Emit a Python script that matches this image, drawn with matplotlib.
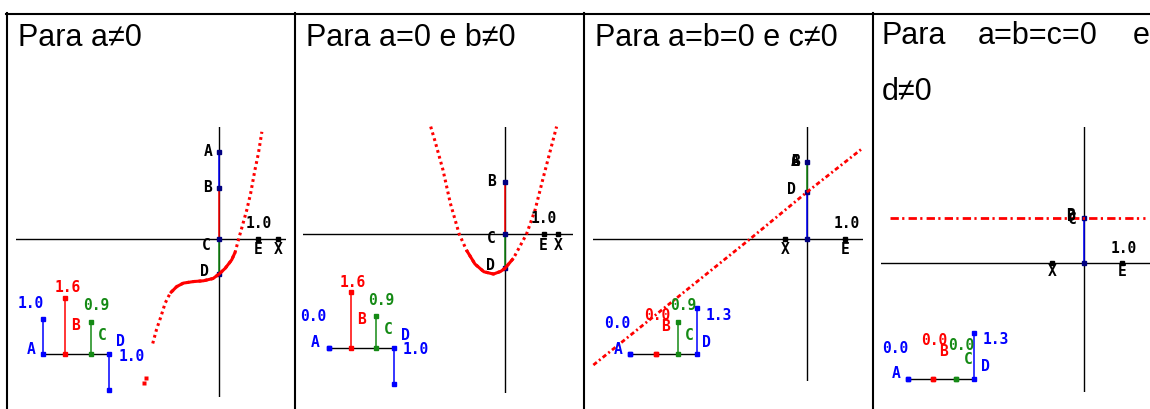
import matplotlib.pyplot as plt
import numpy as np

W, H = 1150, 409

# ---- data ----
titles = ['Para a≠0', 'Para a=0 e b≠0', 'Para a=b=0 e c≠0']
title4_words = ['Para', 'a=b=c=0', 'e']
title4_line2 = 'd≠0'

# slider values a, b, c, d for each panel
slider_vals = [
    [1.0, 1.6, 0.9, -1.0],
    [0.0, 1.6, 0.9, -1.0],
    [0.0, 0.0, 0.9, 1.3],
    [0.0, 0.0, 0.0, 1.3],
]

# curve of panel 1 (cubic), graph units
c1_x = [-1.72, -1.62, -1.51, -1.40, -1.27, -1.10, -0.93, -0.67, -0.41, -0.16, 0.0,
        0.15, 0.32, 0.41, 0.50, 0.59, 0.71, 0.81, 0.92, 1.01, 1.10]
c1_y = [-2.70, -2.33, -2.01, -1.66, -1.40, -1.23, -1.14, -1.10, -1.08, -1.02, -0.90,
        -0.76, -0.54, -0.34, 0.0, 0.32, 0.75, 1.18, 1.78, 2.21, 2.77]
stray1_x = [-1.94, -1.90]
stray1_y = [-3.73, -3.58]

# curve of panel 2 (parabola)
c2_x = [-1.93, -1.82, -1.61, -1.42, -1.19, -1.00, -0.78, -0.55, -0.30, -0.11, 0.0,
        0.22, 0.56, 0.78, 1.00, 1.17, 1.34]
c2_y = [2.79, 2.42, 1.66, 0.80, 0.0, -0.42, -0.78, -0.98, -1.04, -0.97, -0.89,
        -0.63, 0.0, 0.62, 1.49, 2.14, 2.79]

# line of panel 3 and constant of panel 4
c3_x = [-5.57, -1.48, 0.0, 1.46]
c3_y = [-3.29, 0.0, 1.22, 2.37]
c4_x = [-5.11, 1.60]
c4_y = [1.18, 1.18]

# points on the y axis and the coloured pieces between them
yaxis_pts = [[2.25, 1.32, 0.0, -0.91], [1.35, 0.0, -0.89], [2.0, 1.22, 0.0], [1.18, 0.0]]
yaxis_segs = [
    [(2.25, 1.32, 'blue'), (1.32, 0.0, 'red'), (0.0, -0.91, 'green')],
    [(1.35, 0.0, 'red'), (0.0, -0.89, 'green')],
    [(2.0, 1.22, 'green'), (1.22, 0.0, 'blue')],
    [(1.18, 0.0, 'blue')],
]
x_point_E = 1.0
x_point_X = [1.52, 1.38, -0.57, -0.86]

COL = {'blue': '#0000ff', 'red': '#ff0000', 'green': '#158a15', 'navy': '#000080'}
slider_cols = ['blue', 'red', 'green', 'blue']

# ---- layout (pixels) ----
graph_geo = [  # origin x, origin y, unit, box x0, x1, y0, y1
    (219.3, 239.0, 38.7, 16, 286, 127, 397),
    (505.0, 234.0, 38.5, 303, 573, 127, 393),
    (806.7, 239.0, 38.3, 593, 863, 127, 381),
    (1084.3, 263.3, 38.0, 881, 1150, 127, 392),
]
slider_base = [(43.3, 354.3), (329.3, 348.3), (630.0, 354.0), (908.3, 378.7)]
slider_slots = [[0, 22, 47.4, 66], [0, 21.4, 46.7, 65], [0, 25.7, 47.7, 66.7], [0, 24.4, 47.4, 66]]
slider_unit = 35.4

graph_labels = [
    [('A', 208.3, 152), ('B', 208, 188), ('C', 206.7, 245), ('D', 204.3, 272),
     ('E', 258, 249.3), ('X', 278, 249), ('1.0', 259.2, 224)],
    [('B', 491.7, 182), ('C', 491, 238.3), ('D', 490, 265.7),
     ('E', 543, 245), ('X', 558, 245), ('1.0', 544.2, 218.3)],
    [('A', 795, 162), ('B', 795, 162), ('C', 795, 162), ('D', 791.7, 190),
     ('X', 785, 250), ('E', 845, 250), ('1.0', 846.3, 224)],
    [('B', 1070.5, 216), ('C', 1072.5, 219), ('D', 1071.7, 216.7),
     ('X', 1051.7, 271.7), ('E', 1122.3, 271.7), ('1.0', 1124.2, 248.3)],
]
slider_labels = [
    [('1.0', 'blue', 30.5, 303), ('1.6', 'red', 67.5, 287), ('0.9', 'green', 96, 306),
     ('1.0', 'blue', 131.5, 356.7), ('A', 'blue', 30.7, 350), ('B', 'red', 75, 325),
     ('C', 'green', 102.7, 335), ('D', 'blue', 120, 341.7)],
    [('0.0', 'blue', 313, 316.7), ('1.6', 'red', 353, 282.7), ('0.9', 'green', 381, 300.7),
     ('1.0', 'blue', 415.5, 350), ('A', 'blue', 315, 342.7), ('B', 'red', 361, 320),
     ('C', 'green', 388.3, 329.3), ('D', 'blue', 405, 336)],
    [('0.0', 'blue', 617.3, 323.3), ('A', 'blue', 618.3, 350), ('0.0', 'red', 657.5, 315),
     ('B', 'red', 666, 326.7), ('0.9', 'green', 683.3, 305), ('C', 'green', 689.3, 335),
     ('1.3', 'blue', 718.3, 316), ('D', 'blue', 706.7, 342.7)],
    [('0.0', 'blue', 895.3, 348.3), ('A', 'blue', 895.7, 373.3), ('0.0', 'red', 933.8, 340.7),
     ('B', 'red', 943.3, 351.7), ('0.0', 'green', 960.8, 346), ('C', 'green', 968.3, 359.3),
     ('1.3', 'blue', 995.3, 340), ('D', 'blue', 985, 366.7)],
]

fig = plt.figure(figsize=(W / 100, H / 100), dpi=100)


def px_axes(x0, x1, y0, y1):
    ax = fig.add_axes([x0 / W, 1 - y1 / H, (x1 - x0) / W, (y1 - y0) / H])
    ax.set_axis_off()
    return ax


# graphs
graph_axes = []
for i, (ox, oy, u, x0, x1, y0, y1) in enumerate(graph_geo):
    ax = px_axes(x0, x1, y0, y1)
    ax.set_xlim((x0 - ox) / u, (x1 - ox) / u)
    ax.set_ylim((oy - y1) / u, (oy - y0) / u)
    ax.axhline(0, color='k', lw=1.0)
    ax.axvline(0, color='k', lw=1.0)
    for ya, yb, c in yaxis_segs[i]:
        ax.plot([0, 0], [ya, yb], color=COL[c], lw=1.1)
    ax.plot([x_point_E, x_point_X[i]], [0, 0], ls='none', marker='s', ms=2.6, color='k')
    ax.plot(np.zeros(len(yaxis_pts[i])), yaxis_pts[i], ls='none', marker='s', ms=2.6,
            color=COL['navy'])
    graph_axes.append(ax)

red = COL['red']
# panel 1 cubic
ax = graph_axes[0]
x1a, y1a = np.array(c1_x), np.array(c1_y)
ax.plot(x1a, y1a, color=red, lw=2.2, ls=(0, (0.9, 1.1)), clip_on=False)
m = (x1a >= -1.30) & (x1a <= 0.45)
ax.plot(x1a[m], y1a[m], color=red, lw=2.2, solid_capstyle='butt', clip_on=False)
ax.plot(stray1_x, stray1_y, ls='none', marker='s', ms=2.2, color=red, mec='none')

# panel 2 parabola
ax = graph_axes[1]
x2a, y2a = np.array(c2_x), np.array(c2_y)
ax.plot(x2a, y2a, color=red, lw=2.2, ls=(0, (0.9, 1.1)), clip_on=False)
m = (x2a >= -1.05) & (x2a <= 0.25)
ax.plot(x2a[m], y2a[m], color=red, lw=2.2, solid_capstyle='butt', clip_on=False)

# panel 3 line and panel 4 constant
graph_axes[2].plot(c3_x, c3_y, color=red, lw=2.0, ls=(0, (1.6, 1.0, 0.7, 1.0)), clip_on=False)
graph_axes[3].plot(c4_x, c4_y, color=red, lw=2.0, ls=(0, (3, 1.2, 0.8, 1.5)), clip_on=False)

# sliders
for i in range(4):
    bx, by = slider_base[i]
    ax = px_axes(bx - 40, bx + 100, by - 80, by + 50)
    ax.set_xlim(-40, 100)
    ax.set_ylim(-50 / slider_unit, 80 / slider_unit)
    slots = slider_slots[i]
    ax.plot([slots[0], slots[-1]], [0, 0], color='k', lw=1.0)
    for sx, v, c in zip(slots, slider_vals[i], slider_cols):
        ax.plot([sx, sx], [0, v], color=COL[c], lw=1.1, marker='s', ms=2.6)

# overlay: table, titles, labels
top = px_axes(0, W, 0, H)
top.set_xlim(0, W)
top.set_ylim(H, 0)
top.plot([6, W], [13.7, 13.7], color='k', lw=1.5, zorder=5)
for xb in [7, 295.3, 584.3, 872.6]:
    top.plot([xb, xb], [13, H], color='k', lw=1.5, zorder=5)

tfont = dict(family='Liberation Sans', fontsize=22, va='baseline', ha='left', color='k')
for t, xt in zip(titles, [18, 306, 595]):
    top.text(xt, 45.7, t, **tfont)
for t, xt in zip(title4_words, [882, 978, 1133]):
    top.text(xt, 44.5, t, **tfont)
top.text(882, 100, title4_line2, **tfont)

lfont = dict(family='DejaVu Sans Mono', weight='bold', fontsize=10.5, ha='center', va='center')
for i in range(4):
    for t, xt, yt in graph_labels[i]:
        top.text(xt, yt, t, color='k', **lfont)
    for t, c, xt, yt in slider_labels[i]:
        top.text(xt, yt, t, color=COL[c], **lfont)

fig.savefig('out.png', dpi=100)
